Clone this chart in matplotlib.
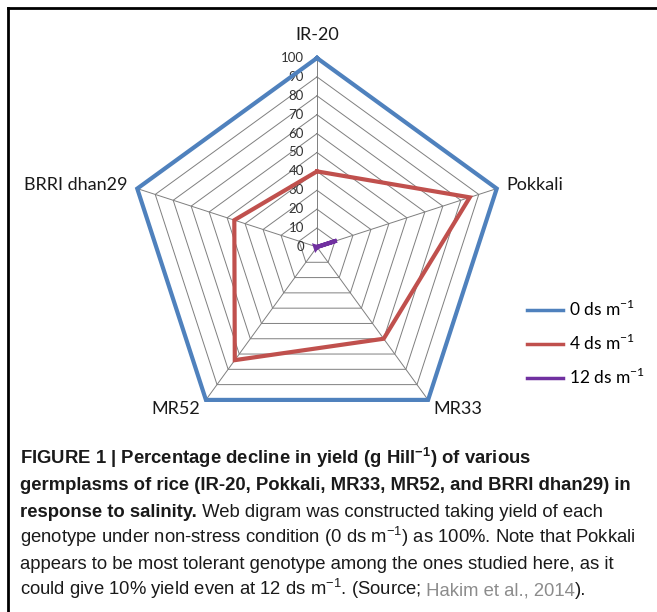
import numpy as np
import matplotlib.pyplot as plt
from matplotlib.lines import Line2D

# data (% of yield under 0 ds m-1)
genotypes = ["IR-20", "Pokkali", "MR33", "MR52", "BRRI dhan29"]
yield_0ds = [100, 100, 100, 100, 100]
yield_4ds = [40, 85, 60, 74, 46]
yield_12ds = [0, 11, 0, 1, 1]
ring_ticks = [0, 10, 20, 30, 40, 50, 60, 70, 80, 90, 100]
series_names = ["0 ds m$^{\\mathregular{-1}}$", "4 ds m$^{\\mathregular{-1}}$",
                "12 ds m$^{\\mathregular{-1}}$"]
series_colors = ["#4f81bd", "#c0504d", "#7030a0"]

W, H = 657, 612
fig = plt.figure(figsize=(W / 100, H / 100), dpi=100)

# web axes: centre (317, 247) px, radius 189 px for 100 %
cx, cy, R = 317, 247, 189
half = 1.3
ax = fig.add_axes([(cx - half * R) / W, (H - cy - half * R) / H,
                   2 * half * R / W, 2 * half * R / H])
ax.set_xlim(-half * 100, half * 100)
ax.set_ylim(-half * 100, half * 100)
ax.axis("off")

angles = np.deg2rad(90 - 72 * np.arange(len(genotypes)))


def web(vals):
    v = np.r_[vals, vals[0]]
    a = np.r_[angles, angles[0]]
    return v * np.cos(a), v * np.sin(a)


grid_col = "#7f7f7f"
for t in ring_ticks[1:]:
    ax.plot(*web([t] * len(genotypes)), color=grid_col, lw=0.7, zorder=1)
for a in angles:
    ax.plot([0, 100 * np.cos(a)], [0, 100 * np.sin(a)], color=grid_col, lw=0.7, zorder=1)

for t in ring_ticks:
    ax.text(-7, t, str(t), ha="right", va="center", fontsize=9.5,
            family="Lato", color="#333333", zorder=2)

for vals, col in zip([yield_0ds, yield_4ds, yield_12ds], series_colors):
    ax.plot(*web(vals), color=col, lw=3, solid_joinstyle="miter", zorder=3)

# category labels
lab = dict(fontsize=13, family="Lato", color="#1a1a1a")
ax.text(0, 112, genotypes[0], ha="center", va="center", **lab)
ax.text(100 * np.cos(angles[1]) + 5, 100 * np.sin(angles[1]) + 2, genotypes[1],
        ha="left", va="center", **lab)
ax.text(100 * np.cos(angles[2]) + 3, 100 * np.sin(angles[2]) - 5, genotypes[2],
        ha="left", va="center", **lab)
ax.text(100 * np.cos(angles[3]) - 3, 100 * np.sin(angles[3]) - 5, genotypes[3],
        ha="right", va="center", **lab)
ax.text(100 * np.cos(angles[4]) - 5, 100 * np.sin(angles[4]) + 2, genotypes[4],
        ha="right", va="center", **lab)

handles = [Line2D([], [], color=c, lw=2.5) for c in series_colors]
fig.legend(handles, series_names, loc="upper left",
           bbox_to_anchor=(527 / W, 1 - 299 / H), frameon=False,
           borderpad=0, borderaxespad=0, handlelength=2.1, handletextpad=0.3,
           labelspacing=0.8, prop={"family": "Lato", "size": 12.5})

# frame of the figure panel (top and left edges only are visible)
fig.add_artist(Line2D([8 / W, 8 / W], [0, 1 - 8 / H], color="black", lw=2))
fig.add_artist(Line2D([8 / W, 1], [1 - 8 / H, 1 - 8 / H], color="black", lw=2))

# caption
cap = fig.add_axes([0, 0, 1, 1])
cap.set_xlim(0, W)
cap.set_ylim(H, 0)
cap.axis("off")
fs = 13.3
cf = dict(family="Liberation Sans", fontsize=fs, va="baseline", color="#1a1a1a")
x0 = 20
base = [464, 490, 517, 543, 569, 595]
cap.text(x0, base[0], "FIGURE 1 | Percentage decline in yield (g Hill$^{\\mathregular{-1}}$) of various",
         weight="bold", **cf)
cap.text(x0, base[1], "germplasms of rice (IR-20, Pokkali, MR33, MR52, and BRRI dhan29) in",
         weight="bold", **cf)
t3 = cap.text(x0, base[2], "response to salinity.", weight="bold", **cf)
cap.annotate(" Web digram was constructed taking yield of each", xy=(1, base[2]),
             xycoords=(t3, "data"), **cf)
cap.text(x0, base[3], "genotype under non-stress condition (0 ds m$^{\\mathregular{-1}}$) as 100%. Note that Pokkali",
         **cf)
cap.text(x0, base[4], "appears to be most tolerant genotype among the ones studied here, as it",
         **cf)
t6 = cap.text(x0, base[5], "could give 10% yield even at 12 ds m$^{\\mathregular{-1}}$. (Source;", **cf)
t7 = cap.annotate(" Hakim et al., 2014", xy=(1, base[5]), xycoords=(t6, "data"),
                  **{**cf, "color": "#8c8c8c"})
cap.annotate(").", xy=(1, base[5]), xycoords=(t7, "data"), **cf)

fig.savefig("out.png", dpi=100)
